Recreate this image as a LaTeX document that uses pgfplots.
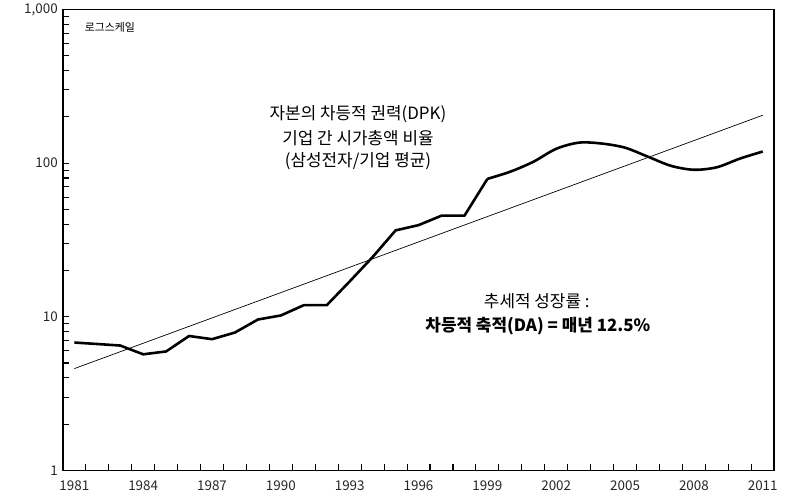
\documentclass[border=0pt]{standalone}
\usepackage{pgfplots}
\pgfplotsset{compat=1.18}
\usepackage{fontspec}
\setmainfont{Noto Sans CJK KR}

\begin{document}
\begin{tikzpicture}
\begin{axis}[
  scale only axis,
  width=713bp, height=462bp,
  xmin=1980.5, xmax=2011.5,
  ymode=log, ymin=1, ymax=1000,
  line width=1.6bp,
  tick align=inside,
  xtick pos=left, ytick pos=left,
  % ticks sit between years; each label is moved half a year right
  xtick={1980.5,1981.5,...,2011.5},
  xticklabels={1981,,,1984,,,1987,,,1990,,,1993,,,1996,,,1999,,,2002,,,2005,,,2008,,,2011,},
  xticklabel style={xshift=11.5bp, yshift=-6bp},
  ytick={1,10,100,1000},
  yticklabels={1,10,100,{1,000}},
  yticklabel style={xshift=-1bp},
  major tick length=6bp, minor tick length=6bp,
  tick style={line width=1.1bp, black},
  /pgf/number format/assume math mode=true,
  tick label style={font=\fontsize{13.5}{14}\selectfont, text=black!85},
  clip=false,
]
% tick marks, drawn inward from the frame
\pgfplotsinvokeforeach{1981.5,1982.5,...,2010.5}{
  \draw[line width=1.1bp] (axis cs:#1,1) -- ([yshift=6bp]axis cs:#1,1);}
\pgfplotsinvokeforeach{2,3,4,5,6,7,8,9,10,20,30,40,50,60,70,80,90,100,200,300,400,500,600,700,800,900}{
  \draw[line width=1.1bp] (axis cs:1980.5,#1) -- ([xshift=6bp]axis cs:1980.5,#1);}

% DPK ratio, piecewise part
\addplot[line width=2.6bp, black, line join=round] coordinates {
  (1981,6.8)(1982,6.65)(1983,6.5)(1984,5.7)(1985,5.95)(1986,7.5)(1987,7.15)
  (1988,7.9)(1989,9.6)(1990,10.2)(1991,11.9)(1992,11.9)(1993,17.0)
  (1994,24.5)(1995,36.5)(1996,39.5)(1997,45.5)(1998,45.5)(1999,79)};
% smoother later part
\addplot[line width=2.6bp, black, smooth, tension=0.5, line join=round] coordinates {
  (1999,79)(2000,88)(2001,102)(2002,124)(2003,136)(2004,134)(2005,126)
  (2006,110)(2007,96)(2008,90.5)(2009,94)(2010,107)(2011,119)};
% trend line
\addplot[line width=0.7bp, black] coordinates {(1981,4.6)(2011,205)};

\node[anchor=west, font=\fontsize{11}{12}\selectfont] at (rel axis cs:0.025,0.961) {로그스케일};
\node[font=\fontsize{17}{18}\selectfont] at (axis cs:1993.36,207) {자본의 차등적 권력(DPK)};
\node[font=\fontsize{17}{18}\selectfont] at (axis cs:1993.36,146) {기업 간 시가총액 비율};
\node[font=\fontsize{17}{18}\selectfont] at (axis cs:1993.36,103) {(삼성전자/기업 평균)};
\node[font=\fontsize{17}{18}\selectfont] at (axis cs:2001.15,12.7) {추세적 성장률 :};
\node[font=\fontsize{17}{18}\selectfont\bfseries] at (axis cs:2001.2,8.7) {차등적 축적(DA) = 매년 12.5\%};
\end{axis}
\path (current axis.south west) ++(-63bp,-32bp);
\path (current axis.north east) ++(13bp,8bp);
\end{tikzpicture}
\end{document}
